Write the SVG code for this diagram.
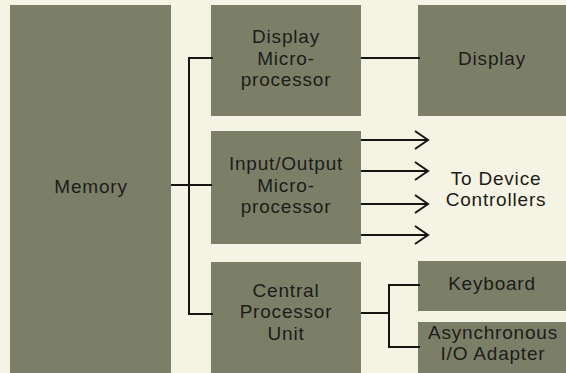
<svg xmlns="http://www.w3.org/2000/svg" width="566" height="373" viewBox="0 0 566 373">
<defs>
<style>
.box{fill:#7c7f68}
.t{font-family:"Liberation Sans",Arial,sans-serif;font-size:19px;fill:#1c1c18;text-anchor:middle;letter-spacing:0.8px}
.ln{stroke:#151512;stroke-width:2;fill:none}
</style>
<marker id="arr" markerWidth="16" markerHeight="20" refX="14" refY="10" orient="auto" markerUnits="userSpaceOnUse">
<path d="M1,1 L14,10 L1,19" fill="none" stroke="#151512" stroke-width="2"/>
</marker>
</defs>
<rect width="566" height="373" fill="#f5f3e3"/>
<g id="memory"><rect class="box" x="10" y="5" width="161" height="368"/><text class="t" x="91" y="193">Memory</text></g>
<g id="display-micro"><rect class="box" x="211" y="5" width="150" height="111"/><text class="t" x="286" y="43">Display</text><text class="t" x="286" y="65">Micro-</text><text class="t" x="286" y="86">processor</text></g>
<g id="display"><rect class="box" x="418" y="5" width="148" height="111"/><text class="t" x="492" y="65">Display</text></g>
<g id="io-micro"><rect class="box" x="211" y="131" width="150" height="113"/><text class="t" x="286" y="170">Input/Output</text><text class="t" x="286" y="192">Micro-</text><text class="t" x="286" y="213">processor</text></g>
<g id="cpu"><rect class="box" x="211" y="262" width="150" height="111"/><text class="t" x="286" y="297">Central</text><text class="t" x="286" y="318">Processor</text><text class="t" x="286" y="340">Unit</text></g>
<g id="keyboard"><rect class="box" x="418" y="261" width="148" height="50"/><text class="t" x="492" y="290">Keyboard</text></g>
<g id="async"><rect class="box" x="418" y="322" width="148" height="51"/><text class="t" x="493" y="339">Asynchronous</text><text class="t" x="493" y="360">I/O Adapter</text></g>
<g id="devices"><text class="t" x="496" y="185">To Device</text><text class="t" x="496" y="206">Controllers</text></g>
<g id="connectors">
<path class="ln" d="M171,185 H212"/>
<path class="ln" d="M213,58 H189 V314 H213"/>
<path class="ln" d="M361,58 H420"/>
<path class="ln" d="M361,140 H428" marker-end="url(#arr)"/>
<path class="ln" d="M361,171 H428" marker-end="url(#arr)"/>
<path class="ln" d="M361,204 H428" marker-end="url(#arr)"/>
<path class="ln" d="M361,235 H428" marker-end="url(#arr)"/>
<path class="ln" d="M361,313 H389"/>
<path class="ln" d="M420,285 H389 V347 H420"/>
</g>
</svg>
